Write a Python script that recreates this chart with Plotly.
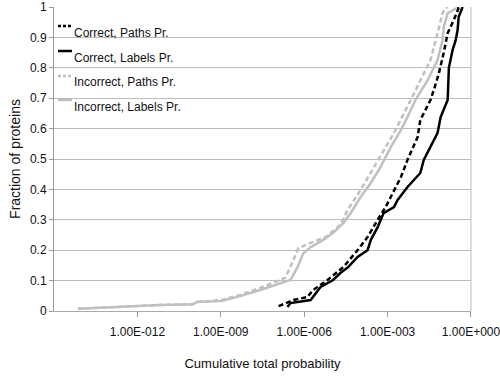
import plotly.graph_objects as go

# ---- data ----
correct_paths_x = [1.2e-7, 4.1e-7, 1.3e-6, 2.1e-6, 6.9e-6, 2.6e-5, 8.3e-5, 1.9e-4, 4.4e-4, 8.5e-4,
                   1.3e-3, 3.0e-3, 5.2e-3, 1.2e-2, 1.5e-2, 3.5e-2, 4.6e-2, 6.9e-2, 0.105, 0.145,
                   0.24, 0.36, 0.43]
correct_paths_y = [0.016, 0.036, 0.046, 0.069, 0.102, 0.145, 0.20, 0.243, 0.30, 0.342,
                   0.375, 0.44, 0.497, 0.572, 0.628, 0.694, 0.727, 0.78, 0.85, 0.914,
                   0.957, 0.997, 1.0]

correct_labels_x = [2.5e-7, 3.2e-7, 1.7e-6, 2.6e-6, 3.9e-6, 1.1e-5, 2.0e-5, 3.9e-5, 8.3e-5, 1.9e-4,
                    2.5e-4, 4.4e-4, 7.2e-4, 1.7e-3, 2.3e-3, 5.2e-3, 1.5e-2, 2.0e-2, 3.5e-2, 6.3e-2,
                    8.1e-2, 0.145, 0.16, 0.22, 0.28, 0.33, 0.36, 0.50]
correct_labels_y = [0.013, 0.026, 0.036, 0.059, 0.079, 0.102, 0.125, 0.145, 0.178, 0.20,
                    0.234, 0.276, 0.322, 0.342, 0.365, 0.408, 0.454, 0.497, 0.539, 0.586,
                    0.638, 0.694, 0.80, 0.86, 0.89, 0.924, 0.967, 1.0]

incorrect_paths_x = [7.2e-15, 2.4e-13, 6.6e-12, 1.0e-10, 1.4e-10, 1.05e-9, 5.0e-9, 2.6e-8, 2.1e-7, 4.1e-7,
                     6.2e-7, 1.7e-6, 5.9e-6, 2.0e-5, 3.6e-5, 1.07e-4, 3.2e-4, 1.7e-3, 6.8e-3, 1.5e-2,
                     3.5e-2, 6.3e-2, 9.5e-2, 0.123, 0.145]
incorrect_paths_y = [0.007, 0.014, 0.02, 0.022, 0.03, 0.036, 0.053, 0.076, 0.109, 0.168,
                     0.207, 0.224, 0.243, 0.283, 0.332, 0.398, 0.474, 0.586, 0.694, 0.76,
                     0.826, 0.914, 0.98, 0.997, 1.0]

incorrect_labels_x = [7.2e-15, 2.4e-13, 6.6e-12, 1.0e-10, 1.4e-10, 1.05e-9, 5.0e-9, 2.6e-8, 3.2e-7, 5.8e-7,
                      9.3e-7, 1.7e-6, 4.9e-6, 1.1e-5, 2.6e-5, 4.7e-5, 1.07e-4, 2.5e-4, 5.6e-4, 1.3e-3,
                      3.0e-3, 5.2e-3, 1.0e-2, 2.8e-2, 6.3e-2, 9.5e-2, 0.105, 0.145, 0.33, 0.36]
incorrect_labels_y = [0.007, 0.014, 0.02, 0.022, 0.03, 0.033, 0.049, 0.069, 0.102, 0.145,
                      0.19, 0.21, 0.234, 0.257, 0.29, 0.322, 0.375, 0.421, 0.474, 0.539,
                      0.595, 0.638, 0.694, 0.76, 0.826, 0.891, 0.934, 0.98, 0.997, 1.0]

series_names = ["Correct, Paths Pr.", "Correct, Labels Pr.",
                "Incorrect, Paths Pr.", "Incorrect, Labels Pr."]

x_tick_vals = [1e-12, 1e-9, 1e-6, 1e-3, 1e0]
x_tick_text = ["1.00E-012", "1.00E-009", "1.00E-006", "1.00E-003", "1.00E+000"]
y_tick_vals = [0, 0.1, 0.2, 0.3, 0.4, 0.5, 0.6, 0.7, 0.8, 0.9, 1]
y_tick_text = ["0", "0.1", "0.2", "0.3", "0.4", "0.5", "0.6", "0.7", "0.8", "0.9", "1"]

# ---- styles ----
BLACK = "#000000"
GRAY = "#c0c0c0"
DASH = "5px,3px"
styles = [
    dict(color=BLACK, dash=DASH),
    dict(color=BLACK, dash="solid"),
    dict(color=GRAY, dash=DASH),
    dict(color=GRAY, dash="solid"),
]
FONT = "Liberation Sans, Arial, sans-serif"

fig = go.Figure()
datasets = [
    (correct_paths_x, correct_paths_y),
    (correct_labels_x, correct_labels_y),
    (incorrect_paths_x, incorrect_paths_y),
    (incorrect_labels_x, incorrect_labels_y),
]
for idx in [3, 2, 1, 0]:
    xs, ys = datasets[idx]
    fig.add_trace(go.Scatter(
        x=xs, y=ys, mode="lines", name=series_names[idx],
        line=dict(color=styles[idx]["color"], dash=styles[idx]["dash"], width=2.5),
        showlegend=False,
    ))

# manual legend (short line samples, like the original)
PL, PR, PT, PB = 54, 471, 7, 311
legend_sample_y = [26, 51, 76, 100]
legend_text_y = [33, 58, 82, 107]
for i, name in enumerate(series_names):
    yy = (PB - legend_sample_y[i]) / (PB - PT)
    fig.add_shape(type="line", xref="paper", yref="paper",
                  x0=(58 - PL) / (PR - PL), x1=(72 - PL) / (PR - PL),
                  y0=yy, y1=yy,
                  line=dict(color=styles[i]["color"], width=2.5,
                            dash="3px,2px" if styles[i]["dash"] != "solid" else "solid"))
    fig.add_annotation(xref="paper", yref="paper",
                       x=(72 - PL) / (PR - PL), y=(PB - legend_text_y[i]) / (PB - PT),
                       xanchor="left", yanchor="middle", text=name, showarrow=False,
                       font=dict(family=FONT, size=12, color="#111111"))

fig.update_layout(
    width=500, height=377,
    margin=dict(l=PL, r=500 - PR, t=PT, b=377 - PB, autoexpand=False),
    paper_bgcolor="white", plot_bgcolor="white",
    font=dict(family=FONT, size=12, color="#111111"),
    showlegend=False,
)
fig.update_xaxes(
    type="log", range=[-15, 0.0005], automargin=False,
    tickvals=x_tick_vals, ticktext=x_tick_text,
    ticks="outside", ticklen=5, tickcolor="#999999",
    ticklabelstandoff=5, ticklabeloverflow="allow",
    showgrid=False, showline=True, linecolor="#aaaaaa", linewidth=1,
    mirror=False, zeroline=False,
    title=dict(text="Cumulative total probability", font=dict(size=13), standoff=20),
    tickfont=dict(size=12),
)
fig.update_yaxes(
    range=[0, 1], automargin=False,
    tickvals=y_tick_vals, ticktext=y_tick_text,
    ticks="outside", ticklen=4, tickcolor="#999999",
    showgrid=True, gridcolor="#bbbbbb", gridwidth=1,
    showline=True, linecolor="#999999", linewidth=1, zeroline=False,
    title=dict(text="Fraction of proteins", font=dict(size=14), standoff=6),
    tickfont=dict(size=12),
)
fig.add_shape(type="line", xref="paper", yref="paper", x0=1, x1=1, y0=0, y1=1,
              line=dict(color="#bbbbbb", width=1))

fig.write_html("out.html")
